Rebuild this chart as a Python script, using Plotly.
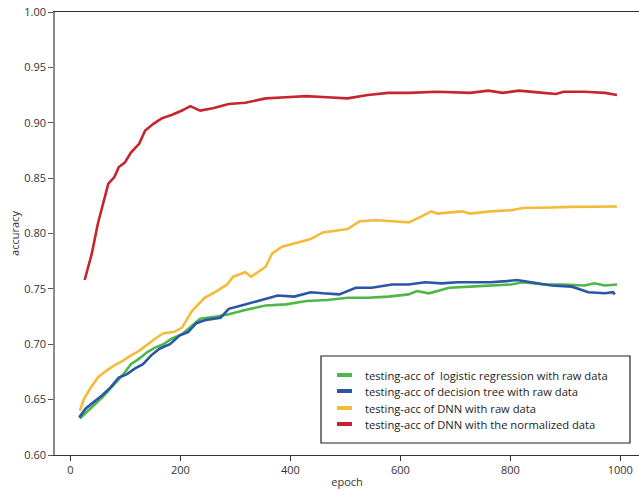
import plotly.graph_objects as go

# ---- data ----
red_x = [26, 32, 39, 50, 62, 69, 80, 88, 99, 110, 125, 136, 151, 166, 184, 203, 218, 236, 259, 288, 318, 355, 392, 429, 467, 504, 541, 578, 615, 667, 727, 760, 786, 816, 860, 883, 897, 935, 972, 994]
red_y = [0.758, 0.770, 0.782, 0.809, 0.833, 0.845, 0.851, 0.860, 0.864, 0.873, 0.881, 0.893, 0.899, 0.904, 0.907, 0.911, 0.915, 0.911, 0.913, 0.917, 0.918, 0.922, 0.923, 0.924, 0.923, 0.922, 0.925, 0.927, 0.927, 0.928, 0.927, 0.929, 0.927, 0.929, 0.927, 0.926, 0.928, 0.928, 0.927, 0.925]

yel_x = [17, 25, 36, 50, 65, 80, 95, 110, 125, 140, 154, 169, 188, 203, 221, 244, 266, 285, 296, 318, 329, 355, 367, 385, 407, 437, 459, 504, 526, 556, 585, 615, 637, 656, 667, 689, 712, 727, 764, 801, 823, 875, 912, 994]
yel_y = [0.640, 0.651, 0.660, 0.670, 0.676, 0.681, 0.685, 0.690, 0.694, 0.700, 0.705, 0.710, 0.711, 0.715, 0.730, 0.742, 0.748, 0.754, 0.761, 0.765, 0.761, 0.770, 0.782, 0.788, 0.791, 0.795, 0.801, 0.804, 0.811, 0.812, 0.811, 0.810, 0.815, 0.820, 0.818, 0.819, 0.820, 0.818, 0.820, 0.821, 0.823, 0.8235, 0.824, 0.8244]

blue_x = [16, 28, 43, 58, 73, 88, 103, 117, 132, 147, 162, 181, 199, 214, 229, 247, 273, 288, 311, 333, 355, 377, 407, 437, 459, 489, 519, 548, 585, 615, 645, 675, 704, 734, 764, 793, 812, 838, 875, 912, 942, 972, 987, 990]
blue_y = [0.634, 0.642, 0.648, 0.654, 0.661, 0.670, 0.673, 0.678, 0.682, 0.690, 0.696, 0.700, 0.708, 0.711, 0.719, 0.722, 0.724, 0.732, 0.735, 0.738, 0.741, 0.744, 0.743, 0.747, 0.746, 0.745, 0.751, 0.751, 0.754, 0.754, 0.756, 0.755, 0.756, 0.756, 0.756, 0.757, 0.758, 0.756, 0.753, 0.752, 0.747, 0.746, 0.747, 0.745]

grn_x = [17, 36, 58, 80, 95, 110, 125, 140, 154, 169, 184, 203, 221, 236, 266, 288, 318, 355, 392, 429, 467, 504, 541, 578, 615, 630, 652, 689, 727, 764, 801, 823, 860, 897, 935, 953, 972, 994]
grn_y = [0.633, 0.642, 0.652, 0.664, 0.672, 0.682, 0.687, 0.693, 0.697, 0.700, 0.705, 0.709, 0.717, 0.723, 0.725, 0.727, 0.731, 0.735, 0.736, 0.739, 0.740, 0.742, 0.742, 0.743, 0.745, 0.748, 0.746, 0.751, 0.752, 0.753, 0.754, 0.756, 0.754, 0.754, 0.753, 0.755, 0.753, 0.754]

names = [
    "testing-acc of  logistic regression with raw data",
    "testing-acc of decision tree with raw data",
    "testing-acc of DNN with raw data",
    "testing-acc of DNN with the normalized data",
]
colors = ["#4db748", "#2b55a6", "#f4bb3a", "#c7252d"]
series = [(grn_x, grn_y), (blue_x, blue_y), (yel_x, yel_y), (red_x, red_y)]

x_ticks = [0, 200, 400, 600, 800, 1000]
y_ticks = [0.60, 0.65, 0.70, 0.75, 0.80, 0.85, 0.90, 0.95, 1.00]

FONT = "Open Sans"

fig = go.Figure()
for (xs, ys), nm, c in zip(series, names, colors):
    fig.add_trace(go.Scatter(x=xs, y=ys, mode="lines", name=nm,
                             line=dict(color=c, width=2.6), showlegend=False))

fig.update_layout(
    width=639, height=491,
    margin=dict(l=55, r=0, t=12, b=36),
    paper_bgcolor="white", plot_bgcolor="white",
    font=dict(family=FONT, size=11, color="#333333"),
    xaxis=dict(range=[-28, 1034], tickvals=x_ticks, ticktext=[str(v) for v in x_ticks],
               showgrid=False, zeroline=False, showline=True, linecolor="#333333", linewidth=1,
               mirror=True, ticks="outside", ticklen=5, tickcolor="#333333",
               title=dict(text="epoch", standoff=2, font=dict(size=11))),
    yaxis=dict(range=[0.60, 1.00], tickvals=y_ticks, ticktext=[f"{v:.2f}" for v in y_ticks],
               showgrid=False, zeroline=False, showline=True, linecolor="#8a8a8a", linewidth=1.5,
               ticks="outside", ticklen=5, tickcolor="#555555",
               title=dict(text="accuracy", standoff=2, font=dict(size=11))),
)

# custom legend box
fig.add_shape(type="rect", xref="paper", yref="paper",
              x0=(321 - 55) / 584, x1=(630 - 55) / 584,
              y0=(455 - 443) / 443, y1=(455 - 356) / 443,
              line=dict(color="#222222", width=1.2), fillcolor="white")
leg_y = [375, 391, 408, 424]
for nm, c, py in zip(names, colors, leg_y):
    yp = (455 - py) / 443
    fig.add_shape(type="line", xref="paper", yref="paper",
                  x0=(337 - 55) / 584, x1=(352 - 55) / 584, y0=yp, y1=yp,
                  line=dict(color=c, width=4))
    fig.add_annotation(xref="paper", yref="paper", x=(363 - 55) / 584, y=yp,
                       text=nm, showarrow=False, xanchor="left", yanchor="middle",
                       font=dict(family=FONT, size=11.2, color="#222222"))

fig.write_html("out.html")
